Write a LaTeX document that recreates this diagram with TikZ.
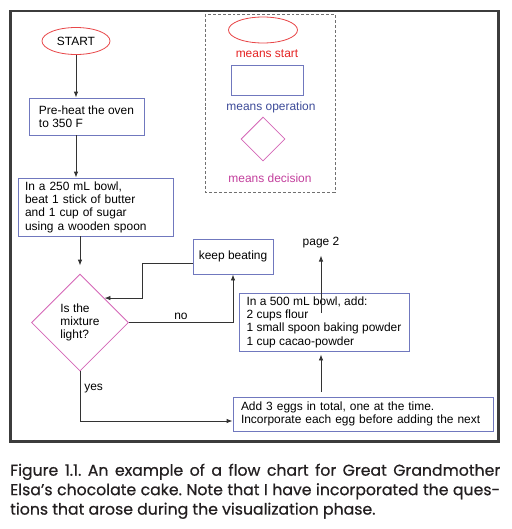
\documentclass[tikz,border=0pt]{standalone}
\usepackage{fontspec}
\setmainfont{Liberation Sans}
\newfontfamily\capfont[FakeBold=0.6]{Poppins}
\usetikzlibrary{shapes.geometric, arrows.meta, calc}

\newlength\px
\setlength\px{0.03cm}

\definecolor{startred}{HTML}{E8484A}
\definecolor{starttext}{HTML}{E42222}
\definecolor{opblue}{HTML}{7078BE}
\definecolor{optext}{HTML}{3C4A98}
\definecolor{decmag}{HTML}{D466B6}
\definecolor{dectext}{HTML}{C23E9C}
\definecolor{arrowgray}{HTML}{333333}
\definecolor{framegray}{HTML}{3C3C3C}
\definecolor{dashgray}{HTML}{707070}
\definecolor{captext}{HTML}{231F20}

\begin{document}
\begin{tikzpicture}[x=0.03cm, y=-0.03cm, font=\fontsize{10.2}{11.4}\selectfont,
    arr/.style={-{Latex[length=0.18cm, width=0.135cm]}, draw=arrowgray, line width=0.7pt},
    opbox/.style={draw=opblue, line width=0.7pt, rectangle, align=left, inner sep=0pt},
    startshape/.style={draw=startred, ellipse, line width=0.7pt, inner sep=0pt},
    decshape/.style={draw=decmag, diamond, line width=0.7pt, inner sep=0pt, align=left}]
        \useasboundingbox (0,0) rectangle (512,529);

        % Frame
        \draw[framegray, line width=2.5\px] (10.5,11) rectangle (498.5,441.5);

        % Legend
        \draw[dashgray, dashed, dash pattern=on 2.5pt off 1.7pt, line width=0.6pt] (205,14) rectangle (335,192);
        \node[startshape, minimum width=69\px, minimum height=26\px] (keystart) at (263,30) {};
        \node[text=starttext] (keystarttxt) at (267,54) {means start};
        \node[opbox, minimum width=72\px, minimum height=30\px] (keyop) at (267,80) {};
        \node[text=optext] (keyoptxt) at (271,107) {means operation};
        \node[decshape, minimum width=44\px, minimum height=44\px] (keydec) at (263,139) {};
        \node[text=dectext] (keydectxt) at (270,178) {means decision};

        % Steps
        \node[startshape, minimum width=68\px, minimum height=27\px] (start) at (76,41) {START};
        \node[opbox, minimum width=115\px, minimum height=37\px] (preheat) at (86.5,116.5) {Pre-heat the oven\\to 350 F};
        \node[opbox, text width=141\px, inner xsep=7\px, minimum height=58\px] (beat) at (95.5,207) {In a 250 mL bowl,\\beat 1 stick of butter\\and 1 cup of sugar\\using a wooden spoon};
        \node[decshape, minimum width=97\px, minimum height=97\px] (mixture) at (80,322.5) {Is the\\mixture\\light?};
        \node[opbox, minimum width=80\px, minimum height=35\px] (keep) at (233,256.5) {keep beating};
        \node[opbox, minimum width=170\px, minimum height=58\px] (bowl) at (324,322) {In a 500 mL bowl, add:\\2 cups flour\\1 small spoon baking powder\\1 cup cacao-powder};
        \node[opbox, text width=244\px, inner xsep=8\px, minimum height=34\px] (eggs) at (363,414) {Add 3 eggs in total, one at the time.\\Incorporate each egg before adding the next};
        \node (page) at (321,243) {page 2};

        % Connectors
        \draw[arr] (start) -- (start |- preheat.north);
        \draw[arr] (preheat.south -| start) -- (beat.north -| start);
        \draw[arr, shorten >=0.24cm] (beat.south -| mixture) -- (mixture.north);
        \draw[arr] ($(keep.west)+(0,6.5)$) -- ++(-50,0) |- (mixture.north east);
        \draw[arr] (mixture.east) -| node[pos=0.25, above, inner sep=2pt] {no} (keep.south);
        \draw[arr] (mixture.south) |- node[pos=0.17, right] {yes} ($(eggs.west)+(0,7)$);
        \draw[arr, shorten <=0.15cm, shorten >=0.09cm] (eggs.north -| page) -- (bowl.south -| page);
        \draw[arr, shorten >=0.09cm] (bowl.center -| page) ++(0,-9) -- (page);

        % Caption
        \node[anchor=north west, font=\capfont\fontsize{13.4}{16.6}\selectfont\frenchspacing, align=left, inner sep=0pt, text=captext] (caption) at (10,463.5)
            {\makebox[490\px][s]{Figure 1.1. An example of a flow chart for Great Grandmother}\\
             \makebox[490\px][s]{Elsa’s chocolate cake. Note that I have incorporated the ques-}\\
             tions that arose during the visualization phase.};
\end{tikzpicture}
\end{document}
